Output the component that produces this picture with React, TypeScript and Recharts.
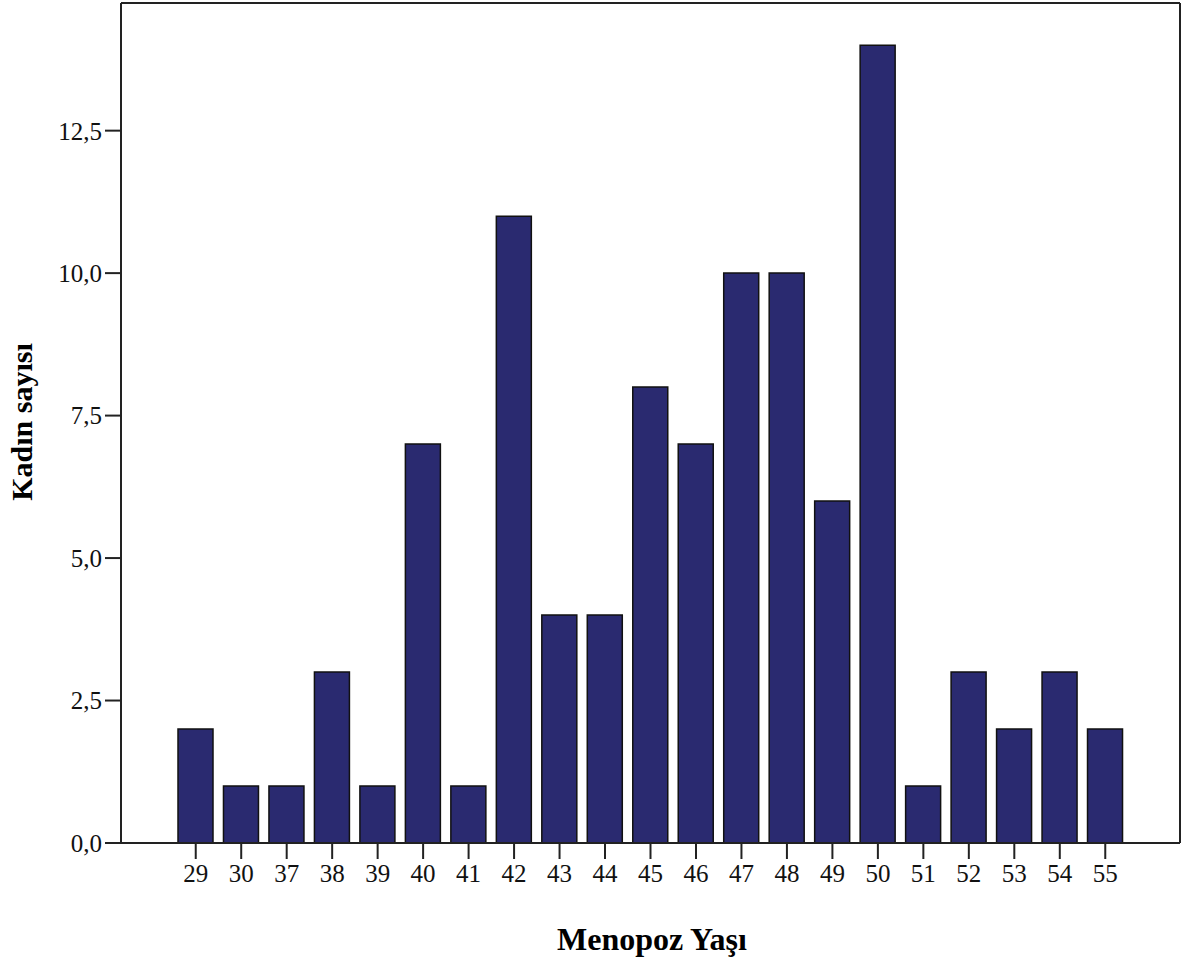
import { BarChart, Bar, XAxis, YAxis } from 'recharts';

const ages = ['29', '30', '37', '38', '39', '40', '41', '42', '43', '44', '45', '46', '47', '48', '49', '50', '51', '52', '53', '54', '55'];
const counts = [2, 1, 1, 3, 1, 7, 1, 11, 4, 4, 8, 7, 10, 10, 6, 14, 1, 3, 2, 3, 2];
const yTicks = [0, 2.5, 5, 7.5, 10, 12.5];

const font = '"Liberation Serif", "Times New Roman", serif';

const data = ages.map((age, i) => ({ age, count: counts[i] }));

const fmt = (v: number) => v.toFixed(1).replace('.', ',');

export default function App() {
    return (
        <div style={{ position: 'absolute', left: 0, top: 0, width: 1184, height: 957, background: '#fff' }}>
            <BarChart
                width={1184}
                height={957}
                data={data}
                margin={{ top: 2, right: 3, left: 61, bottom: 74 }}
                barCategoryGap={5}
            >
                <XAxis
                    dataKey="age"
                    padding={{ left: 52, right: 52 }}
                    height={40}
                    stroke="#222"
                    axisLine={{ stroke: '#222', strokeWidth: 2 }}
                    tickLine={{ stroke: '#222', strokeWidth: 2 }}
                    tickSize={16}
                    tickMargin={5}
                    tick={{ fill: '#111', fontSize: 25, fontFamily: font }}
                    interval={0}
                />
                <XAxis
                    xAxisId="top"
                    dataKey="age"
                    orientation="top"
                    height={1}
                    tick={false}
                    tickLine={false}
                    stroke="#222"
                    axisLine={{ stroke: '#222', strokeWidth: 2 }}
                />
                <YAxis
                    domain={[0, 14.74]}
                    ticks={yTicks}
                    width={60}
                    axisLine={{ stroke: '#222', strokeWidth: 2 }}
                    tickLine={{ stroke: '#222', strokeWidth: 2 }}
                    tickSize={16}
                    tickMargin={3}
                    tickFormatter={fmt}
                    tick={{ fill: '#111', fontSize: 25, fontFamily: font }}
                    allowDataOverflow
                />
                <YAxis
                    yAxisId="right"
                    orientation="right"
                    width={1}
                    tick={false}
                    tickLine={false}
                    stroke="#222"
                    axisLine={{ stroke: '#222', strokeWidth: 2 }}
                />
                <Bar
                    dataKey="count"
                    fill="#2a2a70"
                    stroke="#111"
                    strokeWidth={1.5}
                    barSize={35}
                    isAnimationActive={false}
                />
            </BarChart>
            <div
                style={{
                    position: 'absolute',
                    left: 22,
                    top: 422,
                    transform: 'translate(-50%, -50%) rotate(-90deg)',
                    fontFamily: font,
                    fontWeight: 'bold',
                    fontSize: 30,
                    whiteSpace: 'nowrap',
                    color: '#000',
                }}
            >
                Kadın sayısı
            </div>
            <div
                style={{
                    position: 'absolute',
                    left: 652,
                    top: 939,
                    transform: 'translate(-50%, -50%)',
                    fontFamily: font,
                    fontWeight: 'bold',
                    fontSize: 32,
                    whiteSpace: 'nowrap',
                    color: '#000',
                }}
            >
                Menopoz Yaşı
            </div>
        </div>
    );
}
